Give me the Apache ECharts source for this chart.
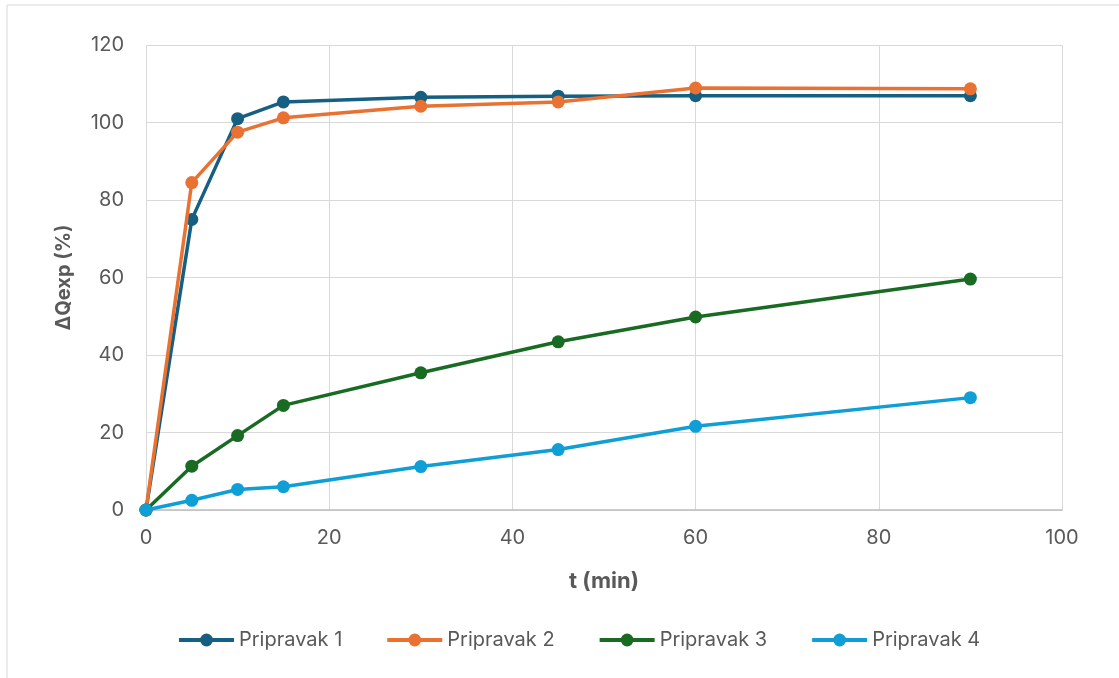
<!DOCTYPE html>
<html><head><meta charset="utf-8">
<script src="https://cdn.jsdelivr.net/npm/echarts@6/dist/echarts.min.js"></script>
<style>html,body{margin:0;padding:0;background:#fff}#c{width:1119px;height:678px}</style>
</head><body><div id="c"></div>
<script>
var times = [0, 5, 10, 15, 30, 45, 60, 90];
var seriesNames = ['Pripravak 1', 'Pripravak 2', 'Pripravak 3', 'Pripravak 4'];
var p1 = [0, 75, 101, 105.3, 106.5, 106.8, 106.9, 106.9];
var p2 = [0, 84.5, 97.5, 101.2, 104.2, 105.3, 108.9, 108.7];
var p3 = [0, 11.3, 19.2, 27, 35.4, 43.4, 49.8, 59.6];
var p4 = [0, 2.5, 5.3, 6, 11.2, 15.6, 21.6, 29];
var colors = ['#156082', '#E97132', '#196B24', '#0F9ED5'];
var values = [p1, p2, p3, p4];
var font = 'Inter, "Noto Sans", sans-serif';
var chart = echarts.init(document.getElementById('c'));
chart.setOption({
  animation: false,
  graphic: [{type: 'rect', shape: {x: 7, y: 5, width: 1200, height: 800}, style: {fill: 'none', stroke: '#d9d9d9', lineWidth: 1}, silent: true, z: -10}],
  grid: {left: 146, right: 57, top: 45, bottom: 168},
  legend: {
    top: 625, left: 172, itemWidth: 55, itemHeight: 16, itemGap: 43,
    lineStyle: {width: 4},
    textStyle: {fontFamily: font, fontSize: 20, color: '#595959'},
    data: seriesNames
  },
  xAxis: {
    type: 'value', min: 0, max: 100, interval: 20,
    name: 't (min)', nameLocation: 'middle', nameGap: 60,
    nameTextStyle: {fontFamily: font, fontSize: 22, fontWeight: 'bold', color: '#595959'},
    axisLine: {show: true, lineStyle: {color: '#bfbfbf', width: 1.5}},
    axisTick: {show: false},
    axisLabel: {fontFamily: font, fontSize: 20, color: '#595959', margin: 18},
    splitLine: {show: true, lineStyle: {color: '#d9d9d9', width: 1}}
  },
  yAxis: {
    type: 'value', min: 0, max: 120, interval: 20,
    name: 'ΔQexp (%)', nameLocation: 'middle', nameGap: 72,
    nameTextStyle: {fontFamily: font, fontSize: 20, fontWeight: 'bold', color: '#595959'},
    axisLine: {show: false},
    axisTick: {show: false},
    axisLabel: {fontFamily: font, fontSize: 20, color: '#595959', margin: 22},
    splitLine: {show: true, lineStyle: {color: '#d9d9d9', width: 1}}
  },
  series: seriesNames.map(function (n, i) {
    return {
      name: n, type: 'line',
      data: times.map(function (t, j) { return [t, values[i][j]]; }),
      symbol: 'circle', symbolSize: 13,
      lineStyle: {color: colors[i], width: 3.5},
      itemStyle: {color: colors[i]},
      z: 2 + i
    };
  })
});
</script></body></html>
